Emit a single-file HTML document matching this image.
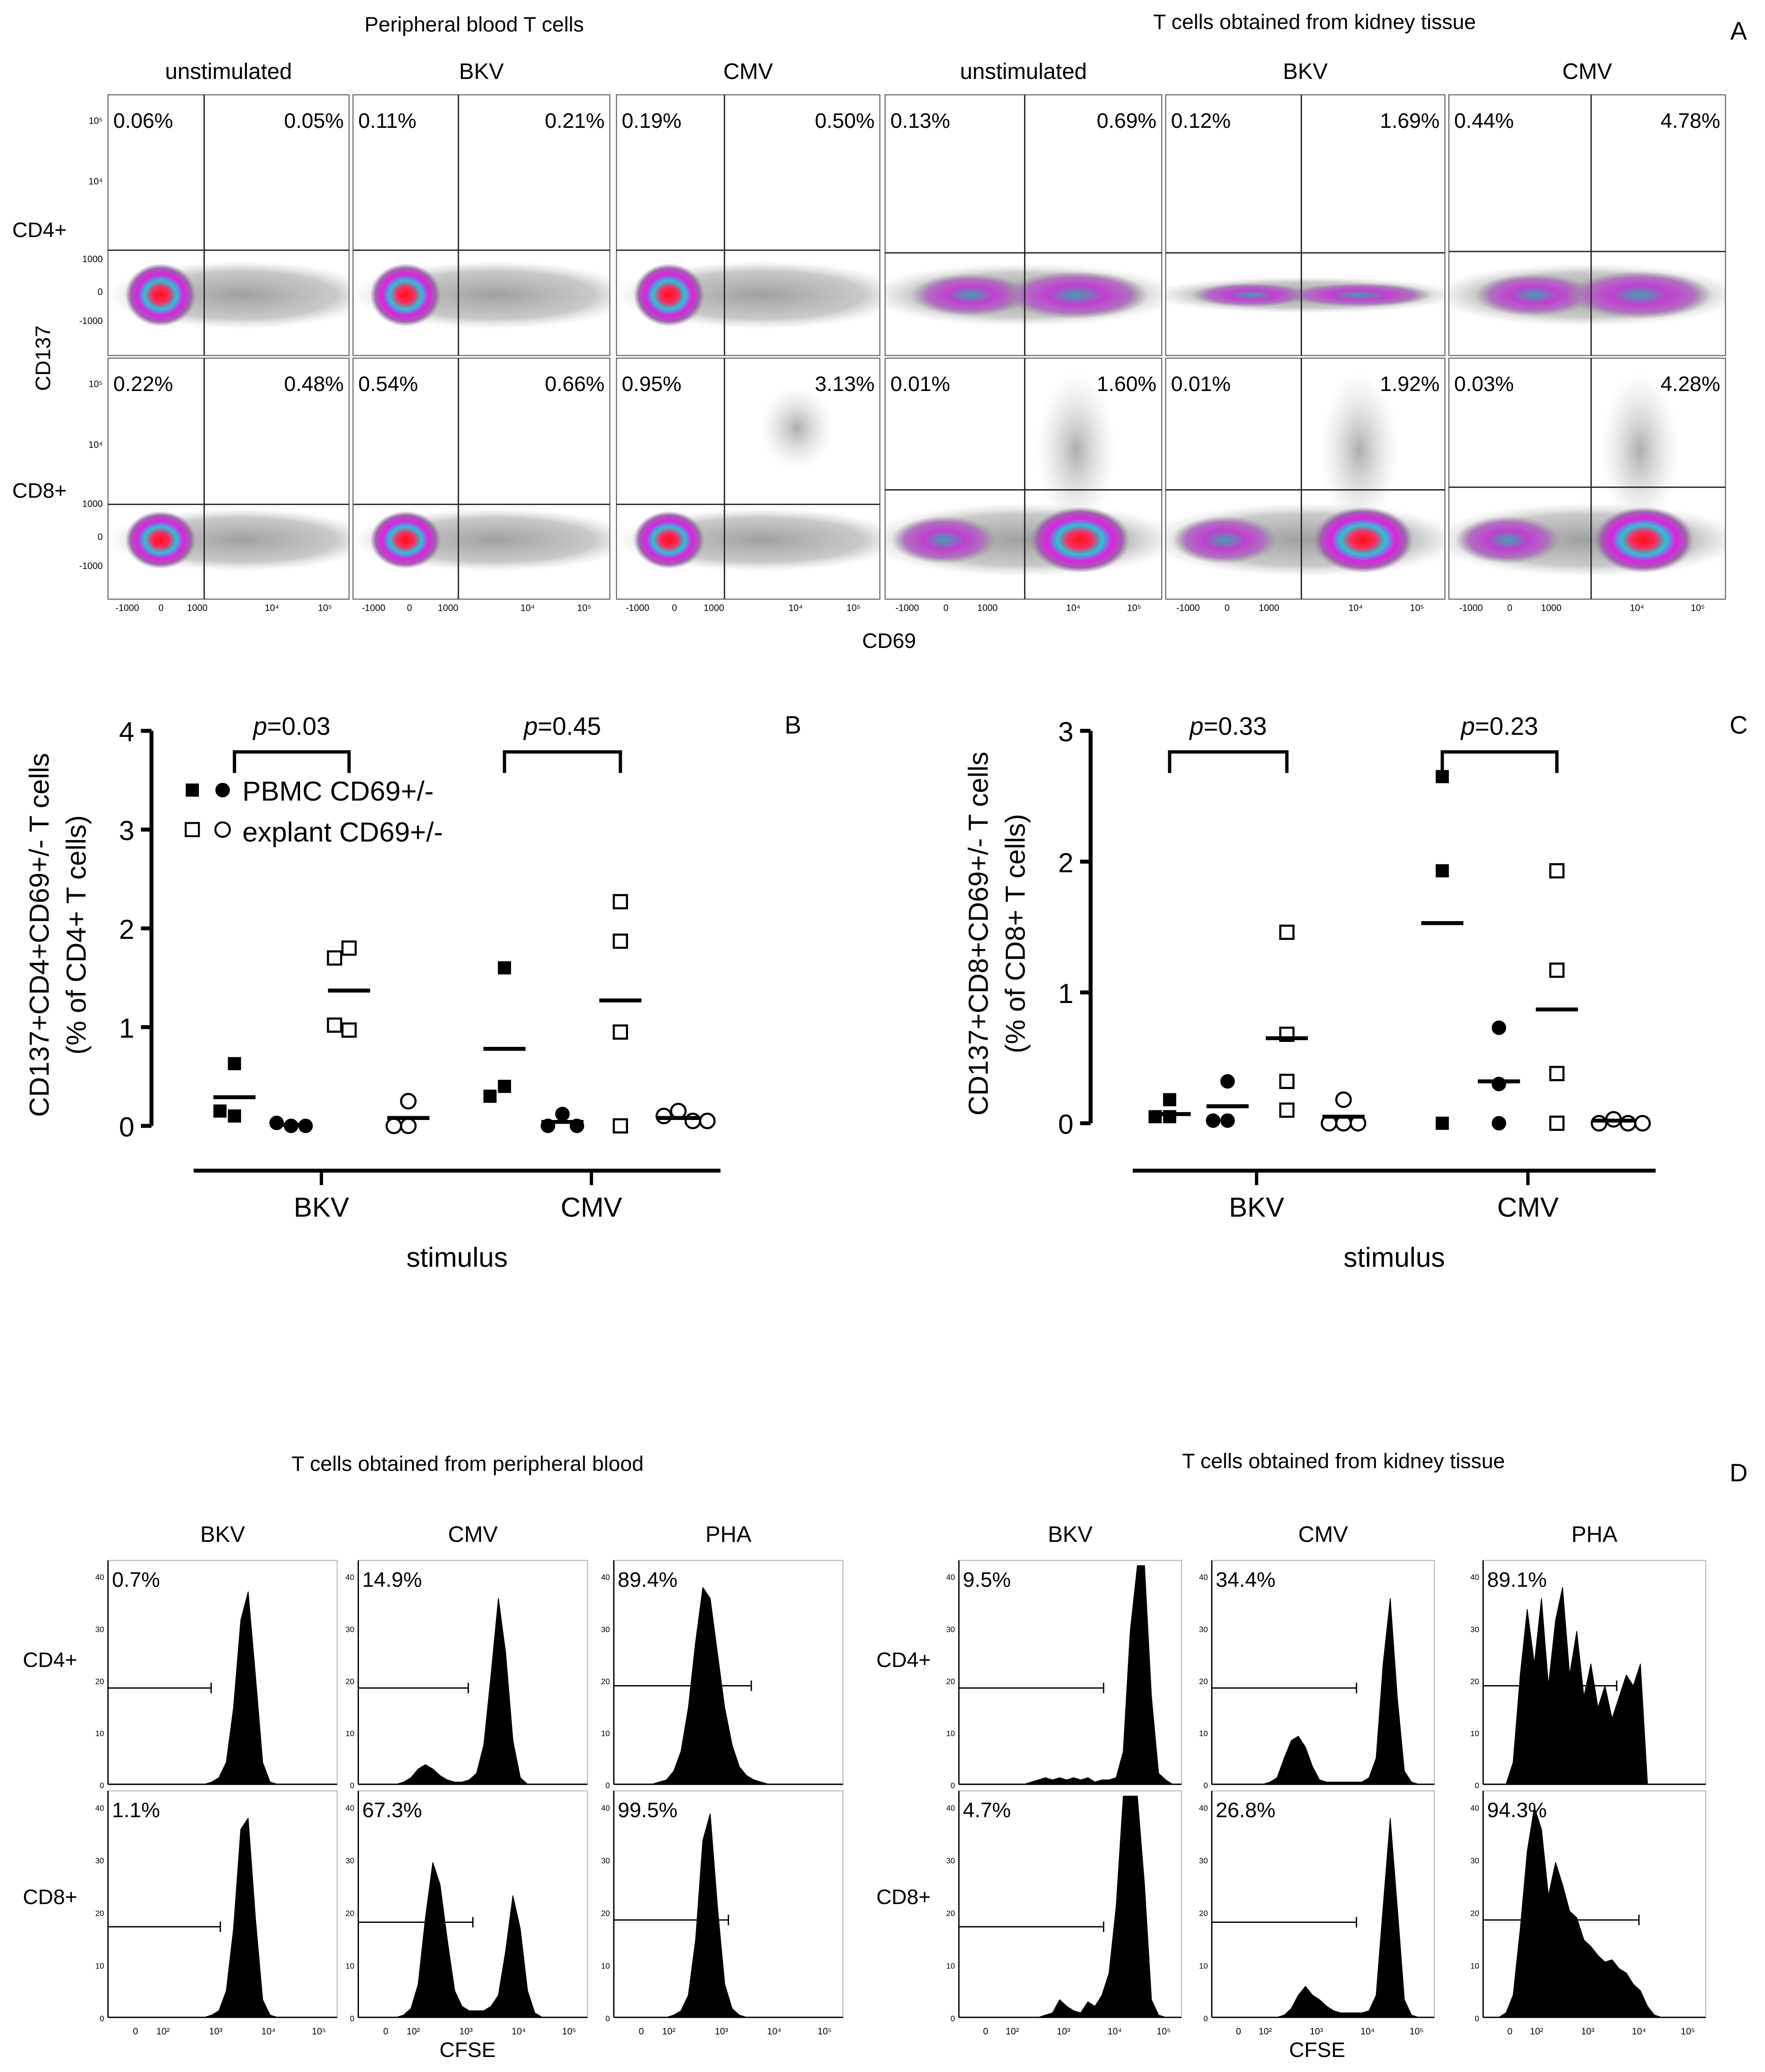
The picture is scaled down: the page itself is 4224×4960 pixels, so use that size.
<!DOCTYPE html>
<html><head><meta charset="utf-8">
<style>
html,body{margin:0;padding:0;background:#fff;}
svg{display:block;font-family:"Liberation Sans",sans-serif;}
</style></head>
<body>
<svg id="fig" xmlns="http://www.w3.org/2000/svg" width="4224" height="4960" viewBox="0 0 1340 1573.5">
<defs>
<radialGradient id="core" cx="50%" cy="50%" r="50%">
<stop offset="0" stop-color="#ff1010"/><stop offset="0.25" stop-color="#ff2a60"/><stop offset="0.45" stop-color="#20c8d8"/><stop offset="0.65" stop-color="#e020e0"/><stop offset="0.85" stop-color="#a060b0"/><stop offset="1" stop-color="#909090" stop-opacity="0"/>
</radialGradient>
<radialGradient id="band" cx="50%" cy="50%" r="50%">
<stop offset="0" stop-color="#40a0b0"/><stop offset="0.4" stop-color="#c040d0"/><stop offset="0.75" stop-color="#b070c0"/><stop offset="1" stop-color="#999" stop-opacity="0"/>
</radialGradient>
<radialGradient id="gray" cx="50%" cy="50%" r="50%">
<stop offset="0" stop-color="#888"/><stop offset="0.7" stop-color="#a5a5a5" stop-opacity="0.75"/><stop offset="1" stop-color="#ccc" stop-opacity="0"/>
</radialGradient>
<radialGradient id="spray" cx="50%" cy="50%" r="50%">
<stop offset="0" stop-color="#8a8a8a" stop-opacity="0.7"/><stop offset="1" stop-color="#ccc" stop-opacity="0"/>
</radialGradient>
</defs>
<g id="root"></g>
</svg>
<script>
// ---------- Panel B data (% of CD4+ T cells) ----------
const bGroups = ["BKV PBMC CD69+","BKV PBMC CD69-","BKV explant CD69+","BKV explant CD69-","CMV PBMC CD69+","CMV PBMC CD69-","CMV explant CD69+","CMV explant CD69-"];
const bValues = [[0.63,0.10,0.15],[0.0,0.03,0.0],[1.80,1.70,0.97,1.02],[0.25,0.0,0.0],[1.60,0.40,0.30],[0.12,0.0,0.0],[2.27,1.87,0.95,0.0],[0.15,0.10,0.05,0.05]];
const bMeans = [0.29,0.01,1.37,0.08,0.78,0.04,1.27,0.08];
const bTicks = [0,1,2,3,4];
// ---------- Panel C data (% of CD8+ T cells) ----------
const cValues = [[0.18,0.05,0.05],[0.32,0.02,0.02],[1.46,0.68,0.32,0.10],[0.18,0.0,0.0,0.0],[2.65,1.93,0.0],[0.73,0.30,0.0],[1.93,1.17,0.38,0.0],[0.03,0.0,0.0,0.0]];
const cMeans = [0.07,0.13,0.65,0.05,1.53,0.32,0.87,0.02];
const cTicks = [0,1,2,3];
const markerKinds = ["fsq","fci","osq","oci","fsq","fci","osq","oci"];
// ---------- Flow percentages ----------
const flowPctUL = ["0.06%","0.11%","0.19%","0.13%","0.12%","0.44%","0.22%","0.54%","0.95%","0.01%","0.01%","0.03%"];
const flowPctUR = ["0.05%","0.21%","0.50%","0.69%","1.69%","4.78%","0.48%","0.66%","3.13%","1.60%","1.92%","4.28%"];
// ---------- Panel D histograms (relative bin heights, 30 bins; row-major) ----------
const histPct = ["0.7%","14.9%","89.4%","9.5%","34.4%","89.1%","1.1%","67.3%","99.5%","4.7%","26.8%","94.3%"];
const histData = [
 [0,0,0,0,0,0,0,0,0,0,0,0,0,0.01,0.03,0.1,0.35,0.75,0.88,0.5,0.1,0.01,0,0,0,0,0,0,0,0],
 [0,0,0,0,0,0.01,0.03,0.07,0.09,0.07,0.04,0.02,0.01,0.01,0.02,0.05,0.18,0.5,0.85,0.6,0.2,0.03,0,0,0,0,0,0,0,0],
 [0,0,0,0,0,0.01,0.02,0.06,0.15,0.35,0.65,0.9,0.85,0.6,0.35,0.18,0.08,0.04,0.02,0.01,0,0,0,0,0,0,0,0,0,0],
 [0,0,0,0,0,0,0,0,0,0.01,0.02,0.03,0.02,0.03,0.02,0.03,0.02,0.03,0.01,0.02,0.02,0.03,0.15,0.7,1.0,1.0,0.4,0.05,0.02,0],
 [0,0,0,0,0,0,0,0.01,0.03,0.12,0.2,0.22,0.17,0.08,0.02,0.01,0.01,0.01,0.01,0.01,0.01,0.03,0.12,0.55,0.85,0.4,0.06,0.01,0,0],
 [0,0,0,0.1,0.5,0.8,0.55,0.85,0.45,0.75,0.9,0.5,0.7,0.4,0.55,0.35,0.45,0.3,0.4,0.5,0.45,0.55,0,0,0,0,0,0,0,0],
 [0,0,0,0,0,0,0,0,0,0,0,0,0,0.01,0.03,0.12,0.4,0.85,0.9,0.45,0.08,0.01,0,0,0,0,0,0,0,0],
 [0,0,0,0,0,0.01,0.04,0.15,0.45,0.7,0.6,0.35,0.12,0.05,0.03,0.03,0.03,0.05,0.1,0.3,0.55,0.4,0.12,0.02,0,0,0,0,0,0],
 [0,0,0,0,0,0,0,0.01,0.03,0.1,0.35,0.8,0.92,0.5,0.15,0.04,0.01,0,0,0,0,0,0,0,0,0,0,0,0,0],
 [0,0,0,0,0,0,0,0,0,0,0,0.01,0.02,0.08,0.05,0.03,0.02,0.07,0.05,0.1,0.2,0.5,1.0,1.0,1.0,0.6,0.08,0.01,0,0],
 [0,0,0,0,0,0,0,0,0,0.01,0.04,0.1,0.14,0.1,0.08,0.05,0.03,0.02,0.02,0.02,0.02,0.03,0.1,0.5,0.9,0.5,0.08,0.01,0,0],
 [0,0,0.02,0.1,0.4,0.75,0.95,0.85,0.55,0.7,0.6,0.48,0.45,0.35,0.32,0.28,0.25,0.26,0.22,0.2,0.15,0.12,0.05,0.01,0,0,0,0,0,0]
];
const histGateY = [0.43,0.43,0.44,0.43,0.43,0.44,0.4,0.42,0.43,0.4,0.42,0.43];
const histGateX = [0.45,0.48,0.6,0.65,0.65,0.6,0.49,0.5,0.5,0.65,0.65,0.7];

const NS="http://www.w3.org/2000/svg";
const root=document.getElementById('root');
function el(tag,attrs,parent){const e=document.createElementNS(NS,tag);for(const k in attrs)e.setAttribute(k,attrs[k]);(parent||root).appendChild(e);return e;}
function txt(x,y,s,size,parent,anchor,extra){const t=el('text',Object.assign({x:x,y:y,'font-size':size,'text-anchor':anchor||'middle',fill:'#000'},extra||{}),parent);t.textContent=s;return t;}

// ===== Panel A =====
const gA=el('g',{});


txt(360,24,"Peripheral blood T cells",16,gA);
txt(998,22,"T cells obtained from kidney tissue",16,gA);
txt(1320,30,"A",19,gA);
const colX=[[82,265],[268,463],[468,668],[672,882],[885,1097],[1100,1310]];
const colNames=["unstimulated","BKV","CMV","unstimulated","BKV","CMV"];
colX.forEach((c,i)=>txt((c[0]+c[1])/2,60,colNames[i],17,gA));
const rowY=[[72,270],[272,455]];
const vLine=[155,348,550,778,988,1208];
const hLine=[[190,190,190,192,192,191],[383,383,383,372,372,370]];
txt(30,180,"CD4+",16,gA);txt(30,378,"CD8+",16,gA);
txt(38,272,"CD137",16,gA,'middle',{transform:'rotate(-90 38 272)'});
txt(675,492,"CD69",16,gA);
for(let r=0;r<2;r++)for(let c=0;c<6;c++){
 const [x0,x1]=colX[c],[y0,y1]=rowY[r];const idx=r*6+c;
 const g=el('g',{},gA);
 
 
 const cp='clip'+idx;const cl=el('clipPath',{id:cp},g);el('rect',{x:x0,y:y0,width:x1-x0,height:y1-y0},cl);
 const d=el('g',{'clip-path':'url(#'+cp+')'},g);
 const yc=r?y0+138:y0+152;
 if(c<3){
  el('ellipse',{cx:(x0+x1)/2+10,cy:yc,rx:(x1-x0)/2+10,ry:r?24:26,fill:'url(#gray)',opacity:0.8},d);
  el('ellipse',{cx:x0+40,cy:yc,rx:27,ry:r?22:24,fill:'url(#core)'},d);
  if(r==1&&c==2){el('ellipse',{cx:605,cy:325,rx:28,ry:32,fill:'url(#spray)'},d);}
 }else{
  if(r==0){
   el('ellipse',{cx:(x0+x1)/2,cy:yc,rx:(x1-x0)/2+15,ry:c==4?14:24,fill:'url(#gray)',opacity:0.8},d);
   el('ellipse',{cx:x0+65,cy:yc,rx:45,ry:c==4?9:16,fill:'url(#band)'},d);
   el('ellipse',{cx:x1-65,cy:yc,rx:55,ry:c==4?9:18,fill:'url(#band)'},d);
  }else{
   el('ellipse',{cx:(x0+x1)/2,cy:yc,rx:(x1-x0)/2+15,ry:28,fill:'url(#gray)',opacity:0.8},d);
   el('ellipse',{cx:x1-65,cy:y0+70,rx:30,ry:60,fill:'url(#spray)'},d);
   el('ellipse',{cx:x0+45,cy:yc,rx:40,ry:18,fill:'url(#band)'},d);
   el('ellipse',{cx:x1-62,cy:yc,rx:38,ry:25,fill:'url(#core)'},d);
  }
 }
 el('rect',{x:x0,y:y0,width:x1-x0,height:y1-y0,fill:'none',stroke:'#666','stroke-width':0.8},g);
 el('line',{x1:vLine[c],y1:y0,x2:vLine[c],y2:y1,stroke:'#222','stroke-width':1},g);
 el('line',{x1:x0,y1:hLine[r][c],x2:x1,y2:hLine[r][c],stroke:'#222','stroke-width':1},g);
 txt(x0+4,y0+25,flowPctUL[idx],16,g,'start');
 txt(x1-4,y0+25,flowPctUR[idx],16,g,'end');
 if(c==0){const lx=x0-4;[["10⁵",y0+22],["10⁴",y0+68],["1000",yc-25],["0",yc],["-1000",yc+22]].forEach(t=>txt(lx,t[1],t[0],7,g,'end'));}
 if(r==1){[["-1000",0.08],["0",0.22],["1000",0.37],["10⁴",0.68],["10⁵",0.9]].forEach(t=>txt(x0+(x1-x0)*t[1],464,t[0],7,g));}
}

// ===== Scatter panels B & C =====
function scatterPanel(name,ax,yBot,yTop,tickVals,values,means,xs,xl,xr,lines,pairs,letterX,letter){
 const g=el('g',{});
 
 
 const maxV=tickVals[tickVals.length-1];
 const Y=v=>yBot-(yBot-yTop)*v/maxV;
 el('line',{x1:ax,y1:Y(0),x2:ax,y2:Y(maxV),stroke:'#000','stroke-width':3},g);
 tickVals.forEach(t=>{el('line',{x1:ax-8,y1:Y(t),x2:ax,y2:Y(t),stroke:'#000','stroke-width':3},g);txt(ax-13,Y(t)+8,String(t),21,g,'end');});
 el('line',{x1:xl,y1:889,x2:xr,y2:889,stroke:'#000','stroke-width':3},g);
 const xt=[(xs[0]+xs[3])/2,(xs[4]+xs[7])/2];
 xt.forEach((x,i)=>{el('line',{x1:x,y1:889,x2:x,y2:900,stroke:'#000','stroke-width':2.5},g);txt(x,924,["BKV","CMV"][i],21,g);});
 txt((xl+xr)/2,962,"stimulus",21,g);
 txt(0,0,lines[0],21,g,'middle',{transform:`translate(${ax-78},${(yBot+yTop)/2+5}) rotate(-90)`});
 txt(0,0,lines[1],21,g,'middle',{transform:`translate(${ax-50},${(yBot+yTop)/2+5}) rotate(-90)`});
 txt(letterX,557,letter,19,g);
 pairs.forEach(p=>{const a=xs[p[0]],b=xs[p[1]];el('polyline',{points:`${a},587 ${a},571 ${b},571 ${b},587`,fill:'none',stroke:'#000','stroke-width':2.5},g);
  const t=txt((a+b)/2,558,"",19,g);const ti=el('tspan',{'font-style':'italic'},t);ti.textContent="p";const t2=el('tspan',{},t);t2.textContent="="+p[2];});
 const spread=[0,-11,11,22];
 values.forEach((vals,gi)=>{
  const kind=markerKinds[gi];
  const gg=el('g',{},g);
  
  
  vals.forEach((v,j)=>{
   let near=0;for(let k=0;k<j;k++)if(Math.abs(vals[k]-v)*(yBot-yTop)/maxV<10)near++;
   const x=xs[gi]+spread[near],y=Y(v);
   let m;
   if(kind[1]=='s')m=el('rect',{x:x-5,y:y-5,width:10,height:10,fill:kind[0]=='f'?'#000':'#fff',stroke:'#000','stroke-width':kind[0]=='f'?0:1.6},gg);
   else m=el('circle',{cx:x,cy:y,r:5.5,fill:kind[0]=='f'?'#000':'#fff',stroke:'#000','stroke-width':kind[0]=='f'?0:1.6},gg);
   
   
  });
  const ml=el('line',{x1:xs[gi]-16,y1:Y(means[gi]),x2:xs[gi]+16,y2:Y(means[gi]),stroke:'#000','stroke-width':3},gg);
  
  
 });
 return g;
}
const xsB=[178,221,265,310,383,427,471,515];
const gB=scatterPanel('panel-b',115,855,555,bTicks,bValues,bMeans,xsB,147,547,["CD137+CD4+CD69+/- T cells","(% of CD4+ T cells)"],[[0,2,"0.03"],[4,6,"0.45"]],602,"B");
const lg=el('g',{},gB);


el('rect',{x:141,y:595,width:10,height:10,fill:'#000'},lg);el('circle',{cx:169,cy:600,r:5.5,fill:'#000'},lg);
txt(184,608,"PBMC CD69+/-",21,lg,'start');
el('rect',{x:141,y:625,width:10,height:10,fill:'#fff',stroke:'#000','stroke-width':1.5},lg);el('circle',{cx:169,cy:630,r:5.5,fill:'#fff',stroke:'#000','stroke-width':1.5},lg);
txt(184,639,"explant CD69+/-",21,lg,'start');
const xsC=[888,932,977,1020,1095,1138,1182,1225];
scatterPanel('panel-c',828,853,555,cTicks,cValues,cMeans,xsC,860,1257,["CD137+CD8+CD69+/- T cells","(% of CD8+ T cells)"],[[0,2,"0.33"],[4,6,"0.23"]],1320,"C");

// ===== Panel D =====
const gD=el('g',{});


txt(355,1117,"T cells obtained from peripheral blood",16,gD);
txt(1020,1115,"T cells obtained from kidney tissue",16,gD);
txt(1320,1125,"D",19,gD);
const dCols=[[82,256],[272,446],[466,640],[728,897],[920,1089],[1126,1295]];
const dNames=["BKV","CMV","PHA","BKV","CMV","PHA"];
dCols.forEach((c,i)=>txt((c[0]+c[1])/2,1171,dNames[i],17,gD));
const dRows=[[1185,1355],[1360,1532]];
txt(38,1266,"CD4+",16,gD);txt(38,1446,"CD8+",16,gD);txt(686,1266,"CD4+",16,gD);txt(686,1446,"CD8+",16,gD);
txt(355,1562,"CFSE",16,gD);txt(1000,1562,"CFSE",16,gD);
for(let r=0;r<2;r++)for(let c=0;c<6;c++){
 const idx=r*6+c;const [x0,x1]=dCols[c],[y0,y1]=dRows[r];const data=histData[idx];
 const g=el('g',{},gD);
 
 
 const n=data.length,bw=(x1-x0-8)/n,H=y1-y0-4;
 let p=`M${x0+4},${y1}`;
 data.forEach((v,i)=>{const xa=x0+4+(i+0.5)*bw,yv=y1-H*Math.min(v,1);p+=` L${xa.toFixed(1)},${yv.toFixed(1)}`;});
 p+=` L${x1-4},${y1} Z`;
 const h=el('path',{d:p,fill:'#000',stroke:'#000','stroke-width':0.6,'stroke-linejoin':'round'},g);
 
 
 el('rect',{x:x0,y:y0,width:x1-x0,height:y1-y0,fill:'none',stroke:'#bbb','stroke-width':0.8},g);
 el('line',{x1:x0,y1:y0,x2:x0,y2:y1,stroke:'#000','stroke-width':1},g);
 el('line',{x1:x0,y1:y1,x2:x1,y2:y1,stroke:'#000','stroke-width':1},g);
 const gy=y1-(y1-y0)*histGateY[idx],gx=x0+(x1-x0)*histGateX[idx];
 el('line',{x1:x0,y1:gy,x2:gx,y2:gy,stroke:'#000','stroke-width':1},g);
 el('line',{x1:gx,y1:gy-4,x2:gx,y2:gy+4,stroke:'#000','stroke-width':1},g);
 txt(x0+3,y0+20,histPct[idx],16,g,'start');
 for(let k=0;k<5;k++)txt(x0-3,y1-(y1-y0)*k/4.3+3,String([0,10,20,30,40][k]),6,g,'end');
 if(r==1)[["0",0.12],["10²",0.24],["10³",0.47],["10⁴",0.7],["10⁵",0.92]].forEach(t=>txt(x0+(x1-x0)*t[1],1545,t[0],7,g));
}
</script>
</body></html>
